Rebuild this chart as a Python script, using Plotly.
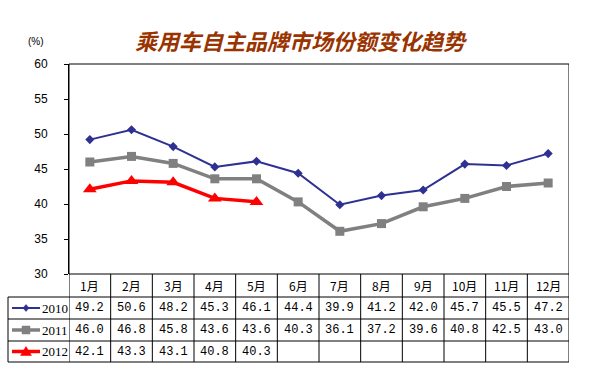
import plotly.graph_objects as go

months = ["1月", "2月", "3月", "4月", "5月", "6月", "7月", "8月", "9月", "10月", "11月", "12月"]
series_names = ["2010", "2011", "2012"]
v2010 = [49.2, 50.6, 48.2, 45.3, 46.1, 44.4, 39.9, 41.2, 42.0, 45.7, 45.5, 47.2]
v2011 = [46.0, 46.8, 45.8, 43.6, 43.6, 40.3, 36.1, 37.2, 39.6, 40.8, 42.5, 43.0]
v2012 = [42.1, 43.3, 43.1, 40.8, 40.3]
y_ticks = [30, 35, 40, 45, 50, 55, 60]

values = [v2010, v2011, v2012]
colors = ["#2E3192", "#808080", "#FF0000"]
widths = [2, 3.5, 3.5]
symbols = ["diamond", "square", "triangle-up"]
msizes = [7, 9, 12]

W, H = 601, 384
L, R, T, B = 69, 569, 64, 274
ph = B - T
pw = R - L

fig = go.Figure()
xs = list(range(12))
for vals, c, w, s, ms, n in zip(values, colors, widths, symbols, msizes, series_names):
    fig.add_trace(go.Scatter(
        x=xs[:len(vals)], y=vals, mode="lines+markers", name=n,
        line=dict(color=c, width=w), marker=dict(color=c, symbol=s, size=ms),
        showlegend=False))

shapes = []
ann = []
font_cjk = "Noto Sans CJK SC, SimSun, sans-serif"
font_num = "Liberation Mono, DejaVu Sans Mono, monospace"

def py(pix):
    return (B - pix) / ph

def px(pix):
    return (pix - L) / pw

rows = [274, 297, 319, 341, 362]
tbl_left = 8
line_col = "#000000"

shapes.append(dict(type="line", xref="paper", yref="paper", x0=0, x1=1, y0=py(rows[0]), y1=py(rows[0]), line=dict(color=line_col, width=1)))
for r in rows[1:]:
    shapes.append(dict(type="line", xref="paper", yref="paper", x0=px(tbl_left), x1=1, y0=py(r), y1=py(r), line=dict(color=line_col, width=1)))
shapes.append(dict(type="line", xref="paper", yref="paper", x0=px(tbl_left), x1=px(tbl_left), y0=py(rows[1]), y1=py(rows[-1]), line=dict(color=line_col, width=1)))
for i in range(13):
    xb = i - 0.5
    y_top = py(T) if i in (0, 12) else py(rows[0])
    shapes.append(dict(type="line", xref="x", yref="paper", x0=xb, x1=xb, y0=y_top, y1=py(rows[-1]), line=dict(color=line_col, width=1)))
shapes.append(dict(type="line", xref="paper", yref="paper", x0=0, x1=1, y0=1, y1=1, line=dict(color=line_col, width=1)))

def cell(x, y, text, font, xref="x", xanchor="center"):
    ann.append(dict(x=x, y=y, xref=xref, yref="paper", text=text, showarrow=False,
                    xanchor=xanchor, yanchor="middle", font=font))

for i, m in enumerate(months):
    cell(i, py((rows[0] + rows[1]) / 2), m, dict(family=font_cjk, size=12, color="#000"))

marker_paths = {
    "diamond": "M 0 -3.5 L 3 0 L 0 3.5 L -3 0 Z",
    "square": "M -4 -4 L 4 -4 L 4 4 L -4 4 Z",
    "triangle-up": "M 0 5 L 5.5 -4 L -5.5 -4 Z",
}
for r, (vals, c, w, s, ms, n) in enumerate(zip(values, colors, widths, symbols, msizes, series_names)):
    yc = py((rows[r + 1] + rows[r + 2]) / 2)
    for i, v in enumerate(vals):
        cell(i, yc, f"{v:.1f}", dict(family=font_num, size=12, color="#000"))
    x0p, x1p = px(12), px(40)
    shapes.append(dict(type="line", xref="paper", yref="paper", x0=x0p, x1=x1p, y0=yc, y1=yc,
                       line=dict(color=c, width=w)))
    shapes.append(dict(type="path", xref="paper", yref="paper", xsizemode="pixel", ysizemode="pixel",
                       xanchor=(x0p + x1p) / 2, yanchor=yc, path=marker_paths[s],
                       fillcolor=c, line=dict(color=c, width=0.5)))
    cell(px(40), yc, n, dict(family="Liberation Serif, serif", size=13, color="#000"), xref="paper", xanchor="left")

cell(px(301), py(40), "<b><i>乘用车自主品牌市场份额变化趋势</i></b>", dict(family=font_cjk, size=22, color="#993300"), xref="paper")
cell(px(36), py(42), "(%)", dict(family="Liberation Sans, Arial", size=10, color="#000"), xref="paper")

fig.update_layout(
    width=W, height=H, margin=dict(l=L, r=W - R, t=T, b=H - B),
    paper_bgcolor="white", plot_bgcolor="white",
    xaxis=dict(range=[-0.5, 11.5], showticklabels=False, showgrid=False, zeroline=False, showline=False, fixedrange=True),
    yaxis=dict(range=[30, 60], tickvals=y_ticks, showgrid=False, zeroline=False, showline=True, linecolor="#000",
               linewidth=1, ticks="outside", ticklen=4, tickcolor="#000", ticklabelstandoff=14,
               tickfont=dict(family="Liberation Sans, Arial", size=12, color="#000")),
    shapes=shapes, annotations=ann, showlegend=False,
)
fig.write_html("out.html", config={"displayModeBar": False},
               post_script="document.body.style.margin='0';")
